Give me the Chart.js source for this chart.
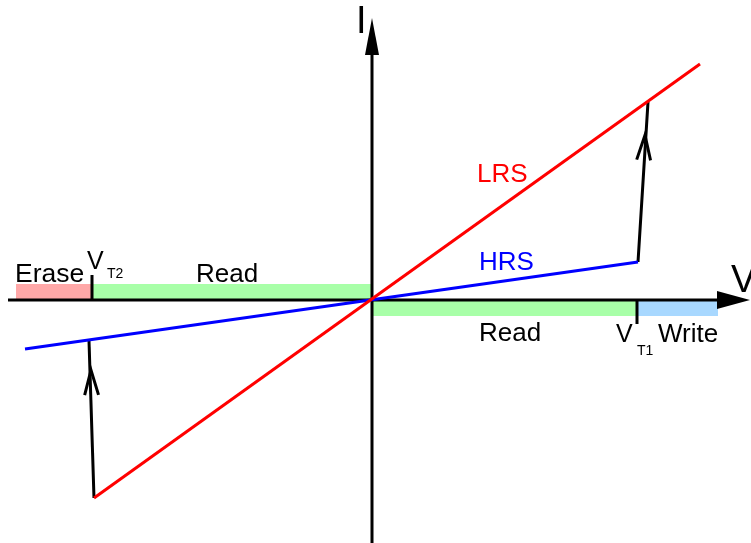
<!DOCTYPE html>
<html>
<head>
<meta charset="utf-8">
<script src="https://cdn.jsdelivr.net/npm/chart.js@4/dist/chart.umd.min.js"></script>
<style>
html,body{margin:0;padding:0;background:#fff;}
canvas{display:block;}
</style>
</head>
<body>
<canvas id="c" width="751" height="543"></canvas>
<script>
// Values (arbitrary V / I units, origin at the axes crossing)
const lrsV = [-278, 328];
const lrsI = [-198, 236];
const hrsV = [-347, 266];
const hrsI = [-49, 38];
const setV = [266, 276];      // HRS -> LRS jump at V_T1
const setI = [38, 198];
const resetV = [-278, -283];  // LRS -> HRS jump at V_T2
const resetI = [-198, -41];
const setArrowTip = [273, 165];
const resetArrowTip = [-281, -70];
const VT1 = 265;
const VT2 = -280;
const regionNames = ['Erase', 'Read', 'Read', 'Write'];
const regionStart = [-356, VT2, 0, VT1];
const regionEnd = [VT2, 0, VT1, 346];
const xMin = -372, xMax = 379, yMin = -243, yMax = 300;

const pts = (xs, ys) => xs.map((x, i) => ({x: x, y: ys[i]}));
const FONT = '"Liberation Sans", Arial, sans-serif';

const drawPlugin = {
  id: 'drawPlugin',
  beforeDatasetsDraw(chart) {
    const ctx = chart.ctx, xs = chart.scales.x, ys = chart.scales.y;
    const px = v => xs.getPixelForValue(v), py = v => ys.getPixelForValue(v);
    ctx.save();
    // bands
    const bandColors = ['#ffa8a8', '#a8ffa8', '#a8ffa8', '#a8d8ff'];
    const bandTop = [16, 16, 0, 0];
    const bandBot = [0, 0, -16, -16];
    for (let i = 0; i < 4; i++) {
      ctx.fillStyle = bandColors[i];
      const x0 = px(regionStart[i]), x1 = px(regionEnd[i]);
      const y0 = py(bandTop[i]), y1 = py(bandBot[i]);
      ctx.fillRect(x0, y0, x1 - x0, y1 - y0);
    }
    // axes
    ctx.strokeStyle = '#000';
    ctx.fillStyle = '#000';
    ctx.lineWidth = 3;
    ctx.beginPath();
    ctx.moveTo(px(-364), py(0)); ctx.lineTo(px(346), py(0));
    ctx.moveTo(px(0), py(yMin)); ctx.lineTo(px(0), py(246));
    ctx.stroke();
    // axis arrowheads
    ctx.beginPath();
    ctx.moveTo(px(345), py(9)); ctx.lineTo(px(378), py(0)); ctx.lineTo(px(345), py(-9)); ctx.closePath();
    ctx.fill();
    ctx.beginPath();
    ctx.moveTo(px(-7), py(245)); ctx.lineTo(px(0), py(282)); ctx.lineTo(px(7), py(245)); ctx.closePath();
    ctx.fill();
    // threshold ticks
    ctx.lineWidth = 3;
    ctx.beginPath();
    ctx.moveTo(px(VT2), py(0)); ctx.lineTo(px(VT2), py(25));
    ctx.moveTo(px(VT1), py(0)); ctx.lineTo(px(VT1), py(-24));
    ctx.stroke();
    ctx.restore();
  },
  afterDatasetsDraw(chart) {
    const ctx = chart.ctx, xs = chart.scales.x, ys = chart.scales.y;
    const px = v => xs.getPixelForValue(v), py = v => ys.getPixelForValue(v);
    ctx.save();
    // open arrowheads on switching lines
    const arrow = (tip, from) => {
      const tx = px(tip[0]), ty = py(tip[1]);
      const fx = px(from[0]), fy = py(from[1]);
      const ang = Math.atan2(ty - fy, tx - fx);
      const L = 26, a = 0.27;
      ctx.beginPath();
      ctx.moveTo(tx - L * Math.cos(ang - a), ty - L * Math.sin(ang - a));
      ctx.lineTo(tx, ty);
      ctx.lineTo(tx - L * Math.cos(ang + a), ty - L * Math.sin(ang + a));
      ctx.stroke();
    };
    ctx.strokeStyle = '#000';
    ctx.lineWidth = 3;
    ctx.lineJoin = 'miter';
    arrow(setArrowTip, [setV[0], setI[0]]);
    arrow(resetArrowTip, [resetV[0], resetI[0]]);
    // text
    ctx.textBaseline = 'alphabetic';
    ctx.textAlign = 'left';
    const txt = (s, x, y, size, color) => {
      ctx.font = size + 'px ' + FONT;
      ctx.fillStyle = color;
      ctx.fillText(s, px(x), py(y));
    };
    txt(regionNames[0], -357, 18, 26.5, '#000');
    txt(regionNames[1], -176, 18, 26, '#000');
    txt(regionNames[2], 107, -41, 26, '#000');
    txt(regionNames[3], 286, -42, 26, '#000');
    txt('V', -285, 31, 25, '#000');
    txt('T2', -265, 22, 14, '#000');
    txt('V', 244, -42, 25, '#000');
    txt('T1', 265, -55, 14, '#000');
    txt('HRS', 107, 30, 26, '#0000ff');
    txt('LRS', 105, 118, 26, '#ff0000');
    txt('I', -16, 267, 38, '#000');
    txt('V', 359, 8, 38, '#000');
    ctx.restore();
  }
};

new Chart(document.getElementById('c'), {
  type: 'scatter',
  data: {
    datasets: [
      {label: 'LRS', data: pts(lrsV, lrsI), showLine: true, borderColor: '#ff0000', borderWidth: 3, pointRadius: 0, tension: 0},
      {label: 'HRS', data: pts(hrsV, hrsI), showLine: true, borderColor: '#0000ff', borderWidth: 3, pointRadius: 0, tension: 0},
      {label: 'Set', data: pts(setV, setI), showLine: true, borderColor: '#000', borderWidth: 3, pointRadius: 0, tension: 0},
      {label: 'Reset', data: pts(resetV, resetI), showLine: true, borderColor: '#000', borderWidth: 3, pointRadius: 0, tension: 0}
    ]
  },
  options: {
    responsive: false,
    animation: false,
    devicePixelRatio: 1,
    layout: {padding: 0},
    plugins: {legend: {display: false}, tooltip: {enabled: false}},
    scales: {
      x: {type: 'linear', min: xMin, max: xMax, display: false},
      y: {type: 'linear', min: yMin, max: yMax, display: false}
    }
  },
  plugins: [drawPlugin]
});
</script>
</body>
</html>
